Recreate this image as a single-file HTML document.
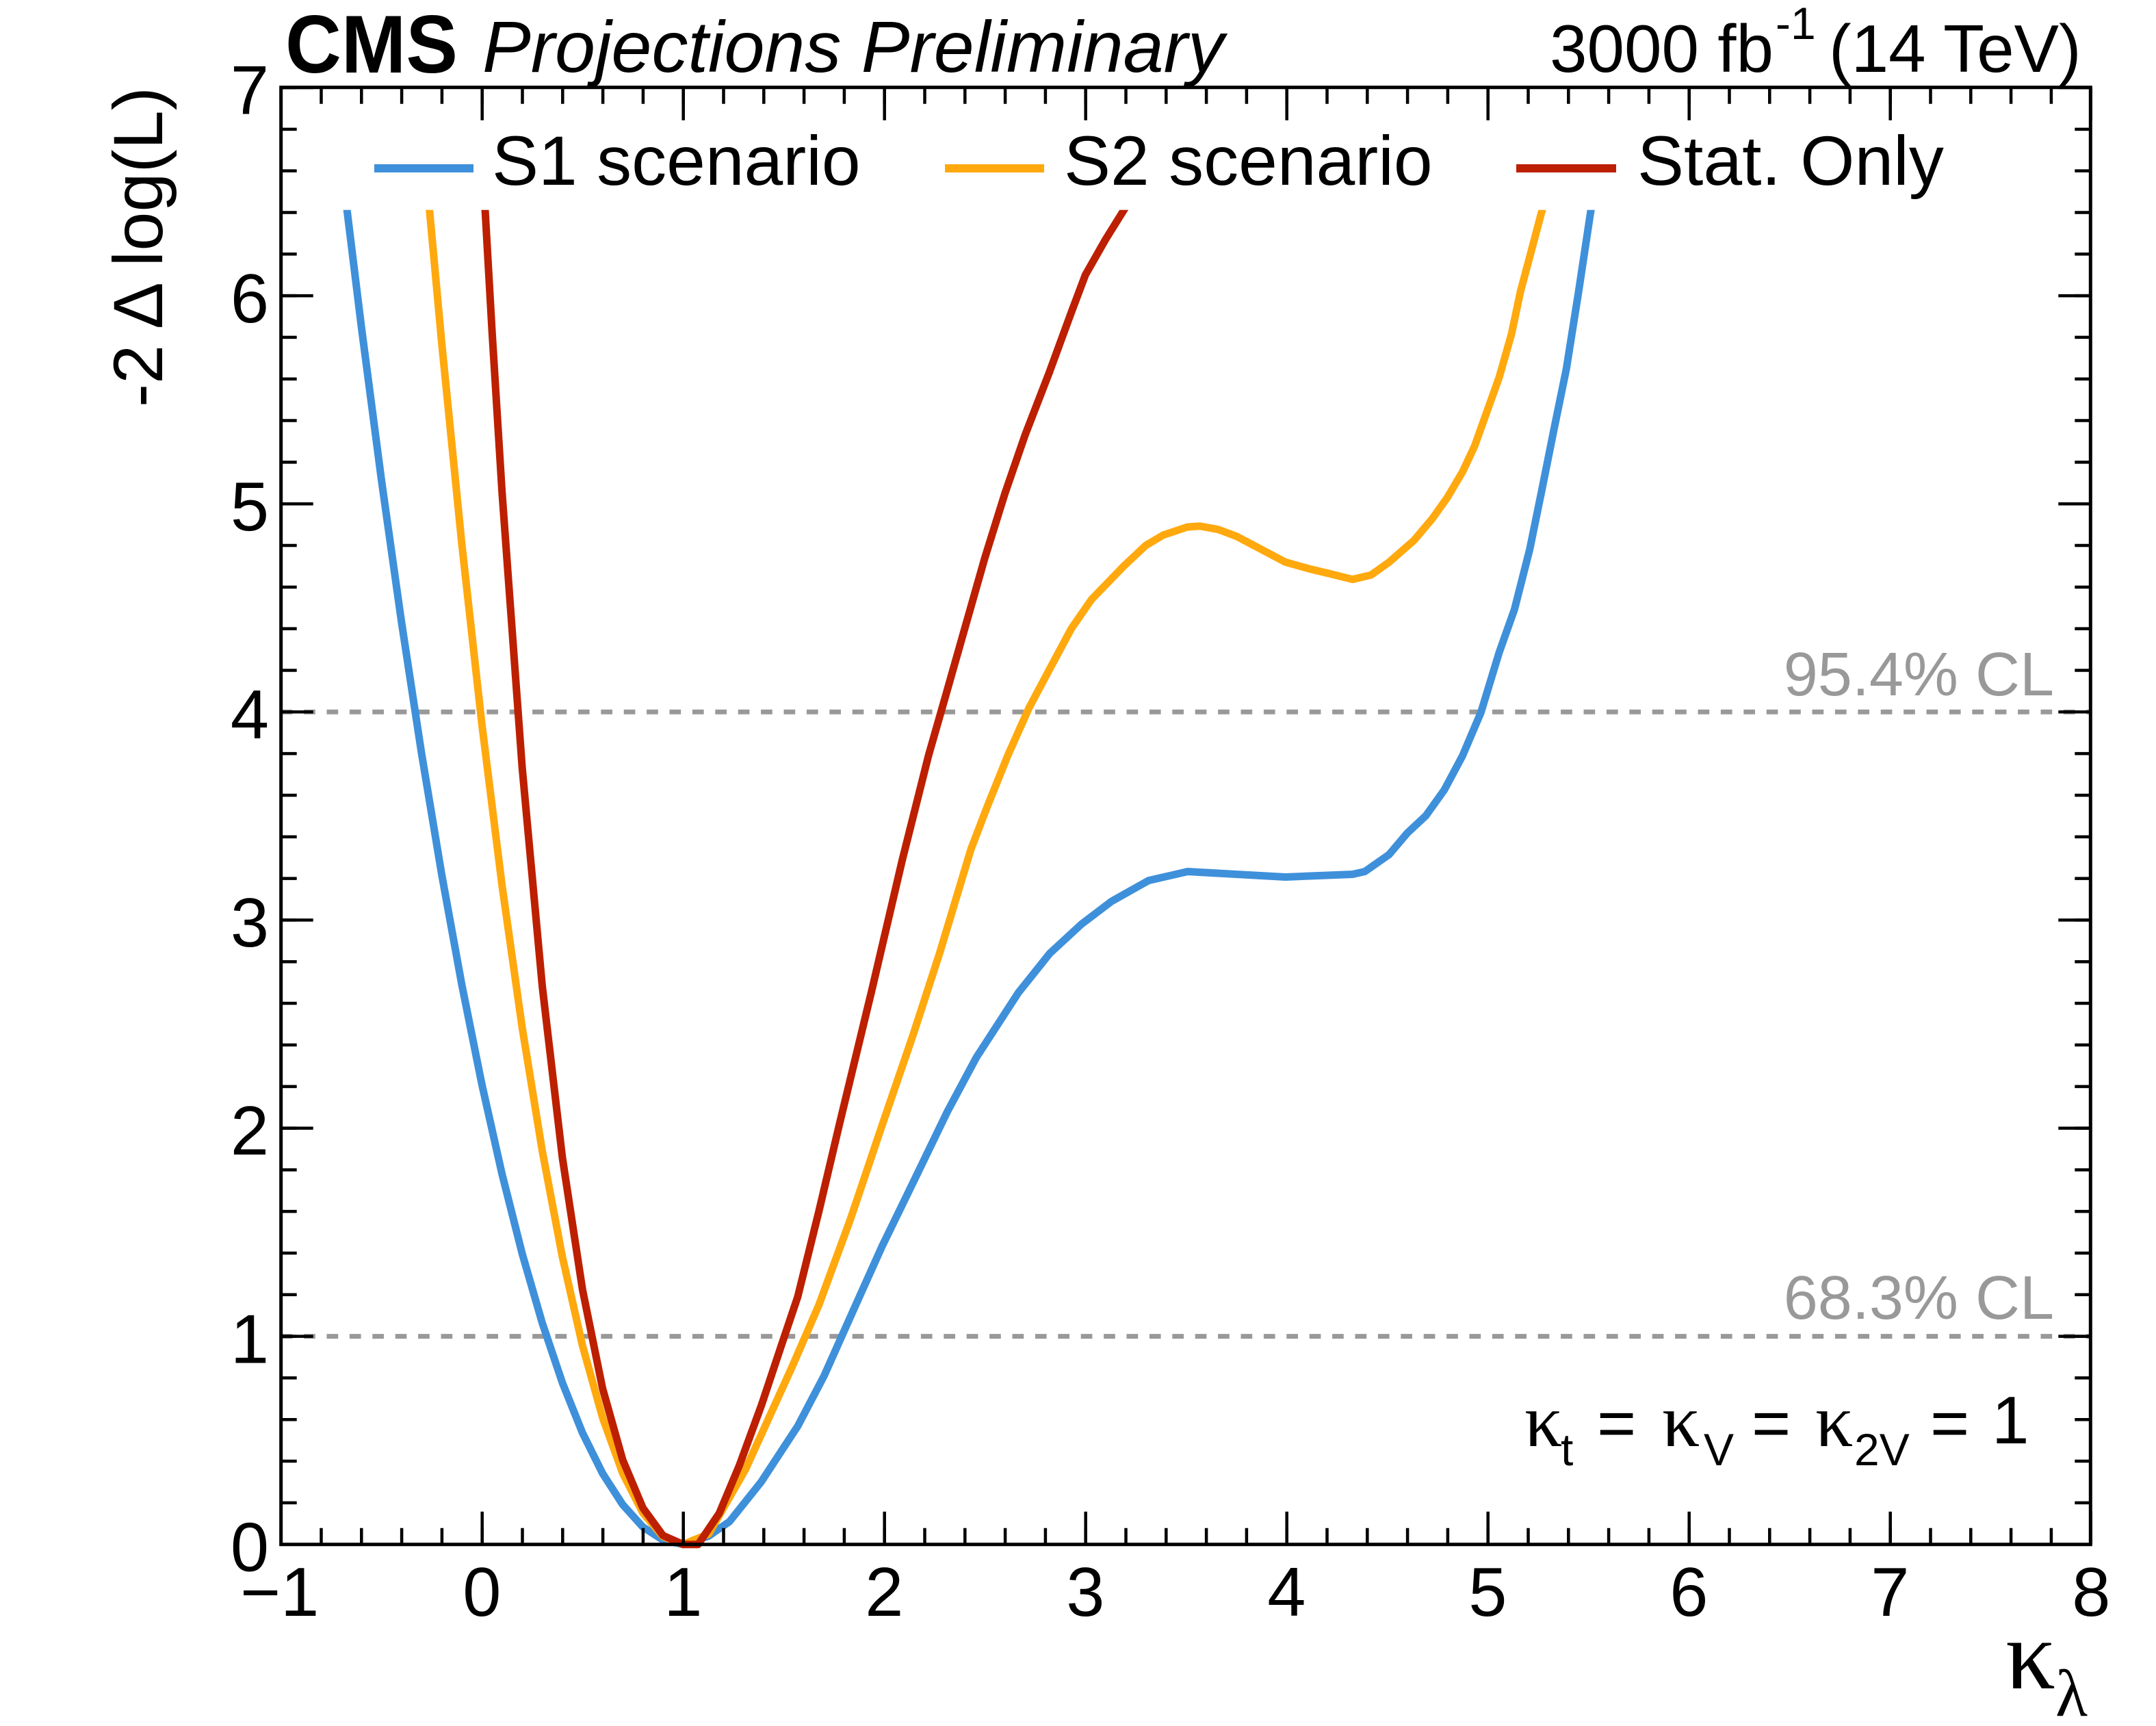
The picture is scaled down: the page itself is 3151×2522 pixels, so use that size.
<!DOCTYPE html>
<html>
<head>
<meta charset="utf-8">
<style>
  html, body { margin: 0; padding: 0; background: #ffffff; }
  svg { display: block; }
  text { font-family: "Liberation Sans", sans-serif; }
  .serif { font-family: "Liberation Serif", serif; }
</style>
</head>
<body>
<svg xmlns="http://www.w3.org/2000/svg" width="3151" height="2522" viewBox="0 0 3151 2522">
  <defs>
    <clipPath id="plotclip" clipPathUnits="userSpaceOnUse">
      <rect x="400" y="306.7" width="2670" height="2020"/>
    </clipPath>
  </defs>
  <rect x="0" y="0" width="3151" height="2522" fill="#ffffff"/>

  <!-- CL dashed lines -->
  <line x1="410.7" y1="1040.3" x2="3055.3" y2="1040.3" stroke="#999999" stroke-width="7" stroke-dasharray="16.7 16.7"/>
  <line x1="410.7" y1="1952.6" x2="3055.3" y2="1952.6" stroke="#999999" stroke-width="7" stroke-dasharray="16.7 16.7"/>

  <!-- Curves -->
  <g clip-path="url(#plotclip)">
    <g transform="matrix(294 0 0 -304.1 704.3 2256.7)" fill="none" stroke-linejoin="round">
      <polyline vector-effect="non-scaling-stroke" stroke="#3f90da" stroke-width="11"
        points="-0.676,6.455 -0.6,5.857 -0.5,5.119 -0.4,4.434 -0.3,3.801 -0.2,3.220 -0.1,2.690 0,2.21 0.1,1.780 0.2,1.398 0.3,1.064 0.4,0.777 0.5,0.536 0.6,0.341 0.7,0.191 0.8,0.084 0.9,0.021 1,0 1.127,0.04 1.231,0.11 1.388,0.30 1.571,0.57 1.701,0.81 1.858,1.15 1.988,1.43 2.144,1.74 2.314,2.08 2.458,2.34 2.666,2.65 2.823,2.84 2.98,2.98 3.13,3.09 3.314,3.19 3.508,3.233 3.994,3.207 4.328,3.220 4.389,3.233 4.510,3.315 4.601,3.419 4.692,3.501 4.784,3.625 4.875,3.790 4.966,3.997 5.057,4.286 5.133,4.493 5.209,4.782 5.270,5.071 5.330,5.361 5.391,5.649 5.452,6.021 5.519,6.45"/>
      <polyline vector-effect="non-scaling-stroke" stroke="#ffa90e" stroke-width="11"
        points="-0.265,6.459 -0.2,5.775 -0.1,4.808 0,3.94 0.1,3.167 0.2,2.485 0.3,1.891 0.4,1.382 0.5,0.955 0.6,0.609 0.7,0.342 0.8,0.152 0.9,0.038 1,0 1.127,0.05 1.31,0.36 1.545,0.86 1.675,1.15 1.831,1.56 1.988,2.01 2.144,2.45 2.275,2.84 2.353,3.09 2.431,3.34 2.510,3.54 2.614,3.79 2.72,4.02 2.83,4.22 2.93,4.40 3.03,4.54 3.19,4.70 3.30,4.80 3.387,4.85 3.508,4.889 3.569,4.893 3.660,4.877 3.751,4.844 3.873,4.782 3.994,4.720 4.116,4.687 4.207,4.666 4.328,4.637 4.420,4.658 4.510,4.720 4.632,4.823 4.723,4.927 4.799,5.030 4.875,5.154 4.935,5.278 4.996,5.443 5.057,5.608 5.118,5.815 5.163,6.021 5.209,6.187 5.281,6.45"/>
      <polyline vector-effect="non-scaling-stroke" stroke="#bd1f01" stroke-width="11"
        points="0.014,6.447 0.05,5.836 0.1,5.058 0.2,3.735 0.3,2.683 0.4,1.859 0.5,1.225 0.6,0.749 0.7,0.406 0.8,0.176 0.9,0.043 1,0 1.075,0 1.18,0.15 1.28,0.38 1.39,0.67 1.49,0.96 1.57,1.19 1.675,1.60 1.78,2.03 1.94,2.67 2.09,3.29 2.22,3.79 2.30,4.06 2.40,4.40 2.50,4.74 2.60,5.05 2.70,5.33 2.82,5.63 2.93,5.92 3.00,6.10 3.10,6.27 3.216,6.45"/>
    </g>
  </g>

  <!-- Ticks (dash trick) -->
  <g stroke="#000000" fill="none">
    <!-- bottom x -->
    <line x1="408.45" y1="2244.7" x2="3058" y2="2244.7" stroke-width="24" stroke-dasharray="4.5 54.3"/>
    <line x1="408.45" y1="2232.7" x2="3058" y2="2232.7" stroke-width="48" stroke-dasharray="4.5 289.5"/>
    <!-- top x -->
    <line x1="408.45" y1="139.7" x2="3058" y2="139.7" stroke-width="24" stroke-dasharray="4.5 54.3"/>
    <line x1="408.45" y1="151.7" x2="3058" y2="151.7" stroke-width="48" stroke-dasharray="4.5 289.5"/>
    <!-- left y -->
    <line x1="422.2" y1="2258.95" x2="422.2" y2="124" stroke-width="23" stroke-dasharray="4.5 56.32"/>
    <line x1="434.2" y1="2258.95" x2="434.2" y2="124" stroke-width="47" stroke-dasharray="4.5 299.6"/>
    <!-- right y -->
    <line x1="3043.8" y1="2258.95" x2="3043.8" y2="124" stroke-width="23" stroke-dasharray="4.5 56.32"/>
    <line x1="3031.8" y1="2258.95" x2="3031.8" y2="124" stroke-width="47" stroke-dasharray="4.5 299.6"/>
  </g>

  <!-- Frame -->
  <rect x="410.7" y="127.7" width="2644.6" height="2129" fill="none" stroke="#000000" stroke-width="5"/>

  <!-- Y tick labels -->
  <g font-size="101" text-anchor="end" fill="#000">
    <text x="393" y="166.7">7</text>
    <text x="393" y="470.8">6</text>
    <text x="393" y="774.9">5</text>
    <text x="393" y="1079">4</text>
    <text x="393" y="1383.1">3</text>
    <text x="393" y="1687.2">2</text>
    <text x="393" y="1991.3">1</text>
    <text x="393" y="2295.4">0</text>
  </g>

  <!-- X tick labels -->
  <g font-size="101" text-anchor="middle" fill="#000">
    <text x="408.7" y="2361">−1</text>
    <text x="704.3" y="2361">0</text>
    <text x="998.3" y="2361">1</text>
    <text x="1292.3" y="2361">2</text>
    <text x="1586.3" y="2361">3</text>
    <text x="1880.3" y="2361">4</text>
    <text x="2174.3" y="2361">5</text>
    <text x="2468.3" y="2361">6</text>
    <text x="2762.3" y="2361">7</text>
    <text x="3056.3" y="2361">8</text>
  </g>

  <!-- Y axis title -->
  <text transform="translate(237,595) rotate(-90)" font-size="102" textLength="468" lengthAdjust="spacingAndGlyphs">-2 Δ log(L)</text>

  <!-- X axis title -->
  <text class="serif" x="2931" y="2467" font-size="145">κ</text>
  <text class="serif" x="3004" y="2507" font-size="97">λ</text>

  <!-- Header -->
  <text x="417" y="106" font-size="120" font-weight="bold" textLength="252" lengthAdjust="spacingAndGlyphs">CMS</text>
  <text x="705" y="105" font-size="106" font-style="italic">Projections Preliminary</text>
  <text x="2265" y="105" font-size="98">3000 fb</text>
  <text x="2595" y="57" font-size="66">-1</text>
  <text x="2673" y="105" font-size="98">(14 TeV)</text>

  <!-- Legend -->
  <line x1="547" y1="246" x2="692" y2="246" stroke="#3f90da" stroke-width="12"/>
  <text x="719" y="270" font-size="102">S1 scenario</text>
  <line x1="1381" y1="246" x2="1526" y2="246" stroke="#ffa90e" stroke-width="12"/>
  <text x="1555" y="270" font-size="102">S2 scenario</text>
  <line x1="2216" y1="246" x2="2362" y2="246" stroke="#bd1f01" stroke-width="12"/>
  <text x="2393" y="270" font-size="102">Stat. Only</text>

  <!-- CL labels -->
  <text x="3002" y="1016" font-size="90" fill="#999999" text-anchor="end">95.4% CL</text>
  <text x="3002" y="1927" font-size="90" fill="#999999" text-anchor="end">68.3% CL</text>

  <!-- Annotation -->
  <g fill="#000">
    <text class="serif" x="2228" y="2113" font-size="110">κ</text>
    <text x="2281" y="2141" font-size="66">t</text>
    <text x="2334" y="2113" font-size="98">=</text>
    <text class="serif" x="2429" y="2113" font-size="110">κ</text>
    <text x="2490" y="2141" font-size="66">V</text>
    <text x="2560" y="2113" font-size="98">=</text>
    <text class="serif" x="2653" y="2113" font-size="110">κ</text>
    <text x="2710" y="2141" font-size="66">2V</text>
    <text x="2821" y="2113" font-size="98">=</text>
    <text x="2911" y="2109" font-size="98">1</text>
  </g>
</svg>
</body>
</html>
